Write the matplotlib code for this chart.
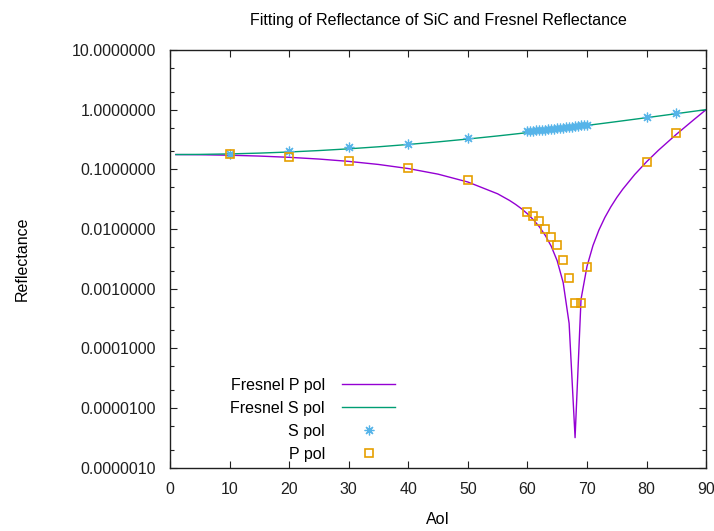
import numpy as np
import matplotlib.pyplot as plt
from matplotlib.ticker import LogLocator, FixedLocator, NullFormatter, FormatStrFormatter

plt.rcParams['font.family'] = ['Liberation Sans', 'DejaVu Sans']

# Fitted Fresnel curves
aoi_fit = [1, 5, 10, 15, 20, 25, 30, 35, 40, 45, 50, 55, 57, 58, 59, 60, 61, 62, 63, 64,
           65, 66, 67, 68, 69, 70, 71, 72, 73, 74, 75, 76, 78, 80, 82, 85, 88, 90]
fresnel_p = [0.1766, 0.1755, 0.1722, 0.1667, 0.1588, 0.1486, 0.1358, 0.1206, 0.1030, 0.0830,
             0.0613, 0.0389, 0.0301, 0.0259, 0.0219, 0.0180, 0.0143, 0.0109, 0.00782, 0.00514,
             0.00293, 0.00127, 0.000263, 0.0000032, 0.000667, 0.00236, 0.00527, 0.0096, 0.0156, 0.0235,
             0.0337, 0.0464, 0.0816, 0.1336, 0.2088, 0.3858, 0.6868, 1.0]
fresnel_s = [0.1767, 0.1778, 0.1811, 0.1868, 0.1950, 0.2061, 0.2204, 0.2384, 0.2607, 0.2881,
             0.3217, 0.3624, 0.3811, 0.3910, 0.4013, 0.4119, 0.4230, 0.4345, 0.4464, 0.4588,
             0.4717, 0.4851, 0.4990, 0.5133, 0.5283, 0.5437, 0.5598, 0.5764, 0.5937, 0.6116,
             0.6301, 0.6493, 0.6899, 0.7333, 0.7798, 0.8557, 0.9395, 1.0]

# Measured points
aoi_s = [10, 20, 30, 40, 50, 60, 60.5, 61, 61.5, 62, 62.5, 63, 63.5, 64, 64.5, 65,
         65.5, 66, 66.5, 67, 67.5, 68, 68.5, 69, 69.5, 70, 80, 85]
s_pol = [0.183, 0.205, 0.232, 0.270, 0.335, 0.43, 0.44, 0.44, 0.45, 0.45, 0.46, 0.46, 0.47,
         0.48, 0.48, 0.49, 0.50, 0.50, 0.51, 0.52, 0.52, 0.53, 0.54, 0.55, 0.55, 0.56, 0.76, 0.87]
aoi_p = [10, 20, 30, 40, 50, 60, 61, 62, 63, 64, 65, 66, 67, 68, 69, 70, 80, 85]
p_pol = [0.183, 0.160, 0.140, 0.106, 0.066, 0.0194, 0.0164, 0.0137, 0.0101, 0.0074, 0.0054,
         0.0030, 0.00150, 0.00058, 0.00058, 0.00232, 0.135, 0.41]

fig = plt.figure(figsize=(7.14, 5.31), dpi=100)
ax = fig.add_axes([0.238, 0.119, 0.751, 0.787])

ax.plot(aoi_fit, fresnel_p, color='#9400D3', lw=1.0, label='Fresnel P pol')
ax.plot(aoi_fit, fresnel_s, color='#009E73', lw=1.0, label='Fresnel S pol')
ax.plot(aoi_s, s_pol, ls='none', marker=(8, 2, 0), ms=7, mew=0.9, color='#56B4E9', label='S pol')
ax.plot(aoi_p, p_pol, ls='none', marker='s', ms=6, mfc='none', mew=1.2, color='#E69F00', label='P pol')

ax.set_yscale('log')
ax.set_xlim(0, 90)
ax.set_ylim(1e-6, 10)
ax.xaxis.set_major_locator(FixedLocator(np.arange(0, 91, 10)))
ax.yaxis.set_major_locator(LogLocator(base=10, numticks=20))
ax.yaxis.set_minor_locator(LogLocator(base=10, subs=(2, 5), numticks=20))
ax.yaxis.set_major_formatter(FormatStrFormatter('%.7f'))
ax.yaxis.set_minor_formatter(NullFormatter())

ax.tick_params(which='both', direction='in', top=True, right=True, labelsize=11.5,
               colors='#202020', pad=10)
ax.tick_params(which='major', length=5, width=0.8)
ax.tick_params(which='minor', length=3, width=0.8)
for sp in ax.spines.values():
    sp.set_color('#202020')
    sp.set_linewidth(1.0)

ax.set_title('Fitting of Reflectance of SiC and Fresnel Reflectance', fontsize=11.5, pad=18)
ax.set_xlabel('AoI', fontsize=11.5, labelpad=11)
ax.set_ylabel('Reflectance', fontsize=11.5, labelpad=30)

ax.legend(loc='lower right', bbox_to_anchor=(0.42, 0.014), frameon=False, markerfirst=False,
          fontsize=11.5, handlelength=3.3, handletextpad=1.1, labelspacing=0.5,
          borderpad=0, borderaxespad=0)

fig.savefig('out.png', dpi=100)
